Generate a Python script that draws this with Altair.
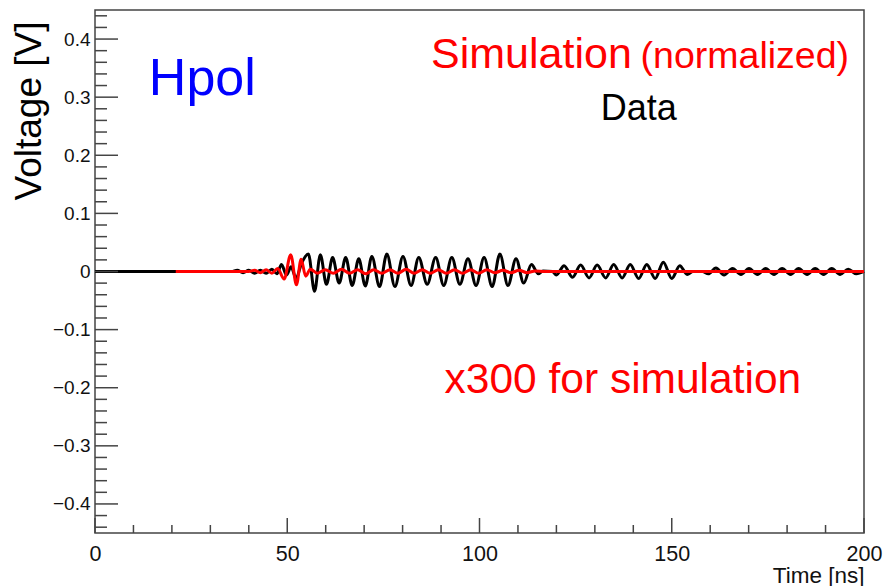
import altair as alt
import pandas as pd

# ---- measured data (Time in ns, Voltage in V) ----
data_t = [0, 35.5, 37, 38.5, 40, 41.5, 43, 44.5, 46, 47.3,
          48.5, 49.8, 51, 52.3, 53.6, 55.5, 57.1, 58.6, 60.2, 61.8,
          63.5, 65.2, 66.9, 68.6, 70.3, 72.0, 74.0, 75.9, 78.0, 80.1,
          82.2, 84.2, 86.4, 88.6, 90.7, 92.8, 94.9, 97.0, 99.1, 101.2,
          103.3, 105.3, 107.4, 109.5, 111.5, 113.5, 115.3, 116.5, 119.0, 120.0,
          122.0, 124.2, 126.3, 128.5, 130.6, 132.8, 134.9, 137.1, 139.2, 141.4,
          143.5, 145.7, 147.8, 150.0, 152.1, 154.0, 155.5, 158.0, 159.5, 161.5,
          163.6, 165.8, 168.0, 170.1, 172.3, 174.4, 176.6, 178.7, 180.9, 183.0,
          185.2, 187.3, 189.5, 191.6, 193.8, 195.9, 198.0, 200.0]
data_v = [0, 0, 0.002, -0.002, 0.002, -0.003, 0.002, -0.003, 0.004, -0.004,
          0.012, -0.006, 0.008, -0.012, 0.012, 0.030, -0.034, 0.029, -0.022, 0.024,
          -0.020, 0.024, -0.024, 0.022, -0.025, 0.026, -0.026, 0.030, -0.026, 0.026,
          -0.024, 0.024, -0.022, 0.024, -0.024, 0.024, -0.022, 0.022, -0.024, 0.024,
          -0.026, 0.030, -0.024, 0.022, -0.020, 0.012, -0.004, 0.001, 0.0, -0.006,
          0.010, -0.010, 0.011, -0.011, 0.011, -0.011, 0.012, -0.011, 0.012, -0.012,
          0.012, -0.012, 0.016, -0.012, 0.010, -0.005, 0.0, 0.0, -0.004, 0.006,
          -0.006, 0.005, -0.005, 0.005, -0.005, 0.005, -0.005, 0.005, -0.005, 0.005,
          -0.005, 0.005, -0.005, 0.005, -0.005, 0.004, -0.004, 0.0]

# ---- simulation (normalized, x300) ----
sim_t = [21, 40, 41.5, 43, 44.5, 46, 47.5, 49.2, 50.9, 52.4,
         53.6, 54.8, 56.0, 57.8, 59.9, 62.0, 64.1, 66.2, 68.3, 70.4,
         72.5, 74.6, 76.7, 78.8, 80.9, 83.0, 85.1, 87.2, 89.3, 91.4,
         93.5, 95.6, 97.7, 99.8, 101.9, 104.0, 106.1, 108.2, 110.3, 112.4,
         114.5, 117, 200]
sim_v = [0, 0, 0.002, -0.002, 0.003, -0.003, 0.005, -0.013, 0.029, -0.023,
         0.021, -0.008, 0.004, -0.003, 0.003, -0.003, 0.004, -0.003, 0.003, -0.004,
         0.003, -0.003, 0.003, -0.003, 0.004, -0.003, 0.003, -0.003, 0.003, -0.003,
         0.003, -0.003, 0.003, -0.003, 0.003, -0.002, 0.002, -0.002, 0.002, -0.002,
         0.001, 0, 0]

# ---- axis ticks ----
x_major = [0, 50, 100, 150, 200]
x_minor = [10, 20, 30, 40, 60, 70, 80, 90, 110, 120, 130, 140, 160, 170, 180, 190]
y_major = [-0.4, -0.3, -0.2, -0.1, 0.0, 0.1, 0.2, 0.3, 0.4]
y_minor = [-0.44, -0.42, -0.38, -0.36, -0.34, -0.32, -0.28, -0.26, -0.24, -0.22,
           -0.18, -0.16, -0.14, -0.12, -0.08, -0.06, -0.04, -0.02,
           0.02, 0.04, 0.06, 0.08, 0.12, 0.14, 0.16, 0.18, 0.22, 0.24, 0.26, 0.28,
           0.32, 0.34, 0.36, 0.38, 0.42, 0.44]

W, H = 769, 523
FONT = "Liberation Sans"

xs = alt.Scale(domain=[0, 200], nice=False, zero=False)
ys = alt.Scale(domain=[-0.45, 0.45], nice=False, zero=False)

df_data = pd.DataFrame({"t": data_t, "v": data_v})
df_sim = pd.DataFrame({"t": sim_t, "v": sim_v})

x_axis = alt.Axis(values=x_major, format="d", ticks=False, domain=False, grid=False,
                  labelFlush=False, labelOverlap=False,
                  labelFont=FONT, labelFontSize=21.5, labelColor="#111", labelPadding=10,
                  title="Time [ns]", titleFont=FONT, titleFontSize=22.5, titleFontWeight="normal",
                  titleColor="#111", titleAnchor="end", titleAlign="right",
                  titleBaseline="alphabetic", titleY=49, titleX=W)
y_axis = alt.Axis(values=y_major, format=".1~f", ticks=False, domain=False, grid=False,
                  labelFlush=False, labelOverlap=False,
                  labelFont=FONT, labelFontSize=19, labelColor="#111", labelPadding=5,
                  title="Voltage [V]", titleFont=FONT, titleFontSize=37, titleFontWeight="normal",
                  titleColor="black", titleAngle=-90, titleAlign="right",
                  titleBaseline="alphabetic", titleX=-55, titleY=11, titleAnchor="end")


def X(field="t"):
    return alt.X(f"{field}:Q", scale=xs, axis=x_axis)


def Y(field="v"):
    return alt.Y(f"{field}:Q", scale=ys, axis=y_axis)


data_line = alt.Chart(df_data).mark_line(color="black", strokeWidth=3, interpolate="monotone").encode(
    x=X(), y=Y())
sim_line = alt.Chart(df_sim).mark_line(color="#ff0000", strokeWidth=3, interpolate="monotone").encode(
    x=X(), y=Y())

TICK_COL = "#444"
xmaj = alt.Chart(pd.DataFrame({"t": x_major})).mark_rule(color=TICK_COL, strokeWidth=1.5).encode(
    x=X(), y=alt.value(H), y2=alt.value(H - 15))
xmin = alt.Chart(pd.DataFrame({"t": x_minor})).mark_rule(color=TICK_COL, strokeWidth=1.5).encode(
    x=X(), y=alt.value(H), y2=alt.value(H - 8))
ymaj = alt.Chart(pd.DataFrame({"v": y_major})).mark_rule(color=TICK_COL, strokeWidth=1.5).encode(
    y=Y(), x=alt.value(0), x2=alt.value(23))
ymin = alt.Chart(pd.DataFrame({"v": y_minor})).mark_rule(color=TICK_COL, strokeWidth=1.5).encode(
    y=Y(), x=alt.value(0), x2=alt.value(12))


def label(text, t, v, size, color, align="left"):
    d = pd.DataFrame({"t": [t], "v": [v], "label": [text]})
    return alt.Chart(d).mark_text(font=FONT, fontSize=size, color=color,
                                  align=align, baseline="alphabetic").encode(
        x=X(), y=Y(), text="label:N")


texts = [
    label("Hpol", 14.0, 0.304, 52, "#0000ff"),
    label("Simulation", 87.4, 0.350, 43, "#ff0000"),
    label("(normalized)", 196.1, 0.350, 37.5, "#ff0000", align="right"),
    label("Data", 141.4, 0.261, 36, "black", align="center"),
    label("x300 for simulation", 90.9, -0.2096, 42.5, "#ff0000"),
]

chart = alt.layer(data_line, xmin, xmaj, ymin, ymaj, sim_line, *texts).properties(
    width=W, height=H,
    autosize=alt.AutoSizeParams(type="none"),
    padding={"left": 95, "top": 10, "right": 19, "bottom": 53},
    background="white",
).configure_view(stroke="#444", strokeWidth=1.5)

chart.save("out.html", embed_options={"renderer": "svg", "actions": False})
